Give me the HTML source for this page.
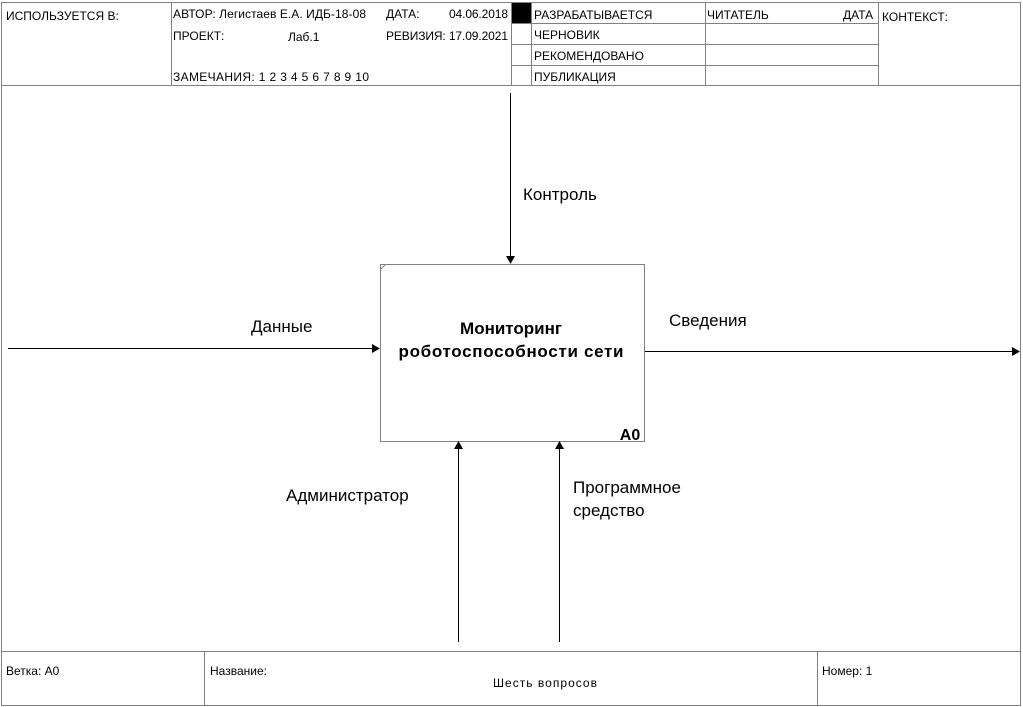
<!DOCTYPE html>
<html><head><meta charset="utf-8"><style>
body{margin:0;background:#fff;}
svg{display:block;font-family:"Liberation Sans",Arial,sans-serif;}
</style></head><body>
<svg width="1023" height="707" viewBox="0 0 1023 707" xmlns="http://www.w3.org/2000/svg">
<g stroke="#808080" stroke-width="1" fill="none">
<rect x="1.5" y="2.5" width="1019" height="703"/>
<line x1="1" y1="85.5" x2="1021" y2="85.5"/>
<line x1="171.5" y1="2" x2="171.5" y2="85"/>
<line x1="511.5" y1="2" x2="511.5" y2="85"/>
<line x1="531.5" y1="2" x2="531.5" y2="85"/>
<line x1="705.5" y1="2" x2="705.5" y2="85"/>
<line x1="878.5" y1="2" x2="878.5" y2="85"/>
<line x1="511" y1="23.5" x2="878" y2="23.5"/>
<line x1="511" y1="44.5" x2="878" y2="44.5"/>
<line x1="511" y1="65.5" x2="878" y2="65.5"/>
<line x1="1" y1="651.5" x2="1021" y2="651.5"/>
<line x1="204.5" y1="651" x2="204.5" y2="706"/>
<line x1="817.5" y1="651" x2="817.5" y2="706"/>
<rect x="380.5" y="264.5" width="264" height="177"/>
<line x1="381" y1="269" x2="385" y2="265"/>
</g>
<rect x="512" y="3" width="19" height="20" fill="#000"/>
<g stroke="#000" stroke-width="1">
<line x1="510.5" y1="93" x2="510.5" y2="256"/>
<line x1="8" y1="348.5" x2="372" y2="348.5"/>
<line x1="645" y1="351.5" x2="1012" y2="351.5"/>
<line x1="458.5" y1="449" x2="458.5" y2="642"/>
<line x1="559.5" y1="449" x2="559.5" y2="642"/>
</g>
<g fill="#000">
<polygon points="506,256 515,256 510.5,264"/>
<polygon points="372,344 372,353 380,348.5"/>
<polygon points="1012,347 1012,356 1020,351.5"/>
<polygon points="454,449 463,449 458.5,441"/>
<polygon points="555,449 564,449 559.5,441"/>
</g>
<g font-size="12" fill="#000">
<text x="6" y="20">ИСПОЛЬЗУЕТСЯ В:</text>
<text x="173" y="18" textLength="193">АВТОР: Легистаев Е.А. ИДБ-18-08</text>
<text x="386" y="18">ДАТА:</text>
<text x="449" y="18" textLength="59">04.06.2018</text>
<text x="173" y="40">ПРОЕКТ:</text>
<text x="288" y="41">Лаб.1</text>
<text x="386" y="40" textLength="122">РЕВИЗИЯ: 17.09.2021</text>
<text x="173" y="81" textLength="196">ЗАМЕЧАНИЯ:  1  2  3  4  5  6  7  8  9  10</text>
<text x="534" y="19">РАЗРАБАТЫВАЕТСЯ</text>
<text x="534" y="39">ЧЕРНОВИК</text>
<text x="534" y="60">РЕКОМЕНДОВАНО</text>
<text x="534" y="81">ПУБЛИКАЦИЯ</text>
<text x="707" y="19">ЧИТАТЕЛЬ</text>
<text x="843" y="19">ДАТА</text>
<text x="882" y="21">КОНТЕКСТ:</text>
<text x="6" y="675">Ветка:  А0</text>
<text x="210" y="675">Название:</text>
<text x="493" y="687" textLength="104">Шесть вопросов</text>
<text x="822" y="675">Номер: 1</text>
</g>
<g font-size="17" fill="#000">
<text x="523" y="200">Контроль</text>
<text x="251" y="332">Данные</text>
<text x="669" y="326">Сведения</text>
<text x="286" y="501">Администратор</text>
<text x="573" y="493">Программное</text>
<text x="573" y="516">средство</text>
</g>
<g font-size="17" font-weight="bold" fill="#000" text-anchor="middle">
<text x="511" y="334">Мониторинг</text>
<text x="511" y="357" textLength="225">роботоспособности сети</text>
<text x="630" y="440" font-size="16">А0</text>
</g>
</svg>
</body></html>
